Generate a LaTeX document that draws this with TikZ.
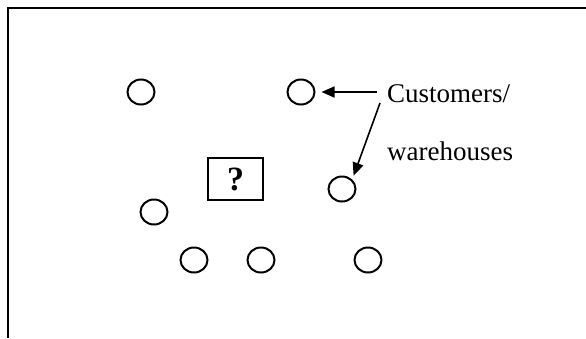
\documentclass[tikz,border=0pt]{standalone}
\usepackage{fontspec}
\setmainfont{Liberation Serif}
\usetikzlibrary{arrows.meta,shapes.geometric}
\begin{document}
\begin{tikzpicture}[x=1pt,y=-1pt,
  site/.style={draw,line width=2pt,ellipse,minimum width=27pt,minimum height=25pt,inner sep=0pt},
  pointer/.style={line width=1.6pt,-{Triangle[length=13pt,width=11pt]}},
  lbl/.style={font=\fontsize{27}{30}\selectfont,anchor=base west,inner sep=0pt}]
  \useasboundingbox (0,0) rectangle (586,338);
  % open frame: top and left edges
  \coordinate (tl) at (8,8);
  \coordinate (tr) at (586,8);
  \coordinate (bl) at (8,338);
  \draw[line width=2.4pt] (tr) -- (tl) -- (bl);
  % customer / warehouse sites
  \node[site] (s1) at (141,92) {};
  \node[site] (s2) at (301,92) {};
  \node[site] (s3) at (342,189) {};
  \node[site] (s4) at (154,212) {};
  \node[site] (s5) at (194,260) {};
  \node[site] (s6) at (261,260) {};
  \node[site] (s7) at (368,260) {};
  % unknown facility location
  \node[draw,line width=1.6pt,minimum width=55pt,minimum height=42pt,inner sep=0pt,
        font=\fontsize{34}{38}\selectfont\bfseries] (q) at (235.5,179) {?};
  % labels
  \node[lbl] (t1) at (387,102) {Customers/};
  \node[lbl] (t2) at (387,160) {warehouses};
  % pointers from the label
  \coordinate (p1) at (377,92);
  \coordinate (p2) at (380,103);
  \draw[pointer,shorten >=6pt] (p1) -- (s2);
  \draw[pointer,shorten >=4pt] (p2) -- (s3.north east);
\end{tikzpicture}
\end{document}
